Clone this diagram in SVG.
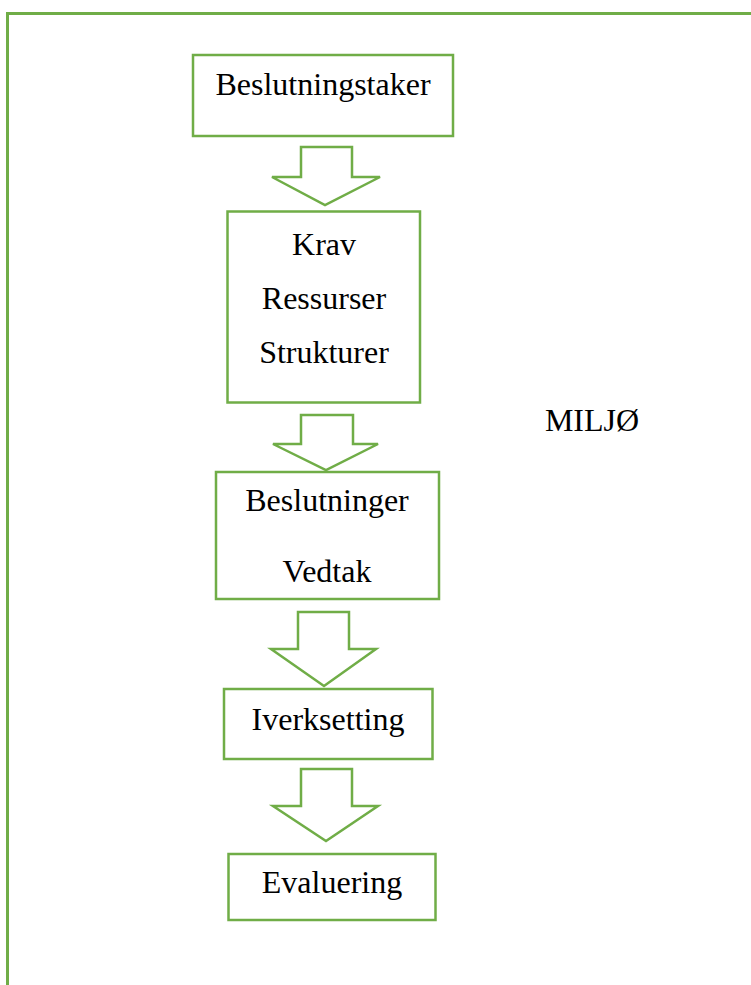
<svg xmlns="http://www.w3.org/2000/svg" width="751" height="985" viewBox="0 0 751 985">
<style>
.box{fill:#fff;stroke:#70AD47;stroke-width:2.5}
.arr{fill:#fff;stroke:#70AD47;stroke-width:2.5;stroke-linejoin:miter}
.t{font-family:"Liberation Serif","Times New Roman",serif;font-size:32px;fill:#000;text-anchor:middle}
</style>
<rect width="751" height="985" fill="#fff"/>
<path d="M7.5,985 V13.5 H751" fill="none" stroke="#70AD47" stroke-width="3"/>
<g id="connectors">
<polygon class="arr" points="301,147 352,147 352,177 380,177 325,205 272,177 301,177"/>
<polygon class="arr" points="301,415 353,415 353,444 378,444 326,470 273,444 301,444"/>
<polygon class="arr" points="298,612 349,612 349,649 376,649 324,686 271,649 298,649"/>
<polygon class="arr" points="301,769 352,769 352,806 378,806 326,841 273,806 301,806"/>
</g>
<g id="beslutningstaker">
<rect class="box" x="193" y="55" width="260" height="81"/>
<text class="t" x="323" y="95">Beslutningstaker</text>
</g>
<g id="krav">
<rect class="box" x="227.5" y="211.5" width="192.5" height="191"/>
<text class="t" x="324" y="255">Krav</text>
<text class="t" x="324" y="309">Ressurser</text>
<text class="t" x="324" y="363">Strukturer</text>
</g>
<g id="beslutninger">
<rect class="box" x="216" y="472" width="223" height="127"/>
<text class="t" x="327" y="511">Beslutninger</text>
<text class="t" x="327" y="582">Vedtak</text>
</g>
<g id="iverksetting">
<rect class="box" x="224" y="689" width="208.5" height="70"/>
<text class="t" x="328" y="730">Iverksetting</text>
</g>
<g id="evaluering">
<rect class="box" x="228.5" y="854" width="207" height="66"/>
<text class="t" x="332" y="893">Evaluering</text>
</g>
<g id="miljo">
<text class="t" x="592" y="431">MILJØ</text>
</g>
</svg>
